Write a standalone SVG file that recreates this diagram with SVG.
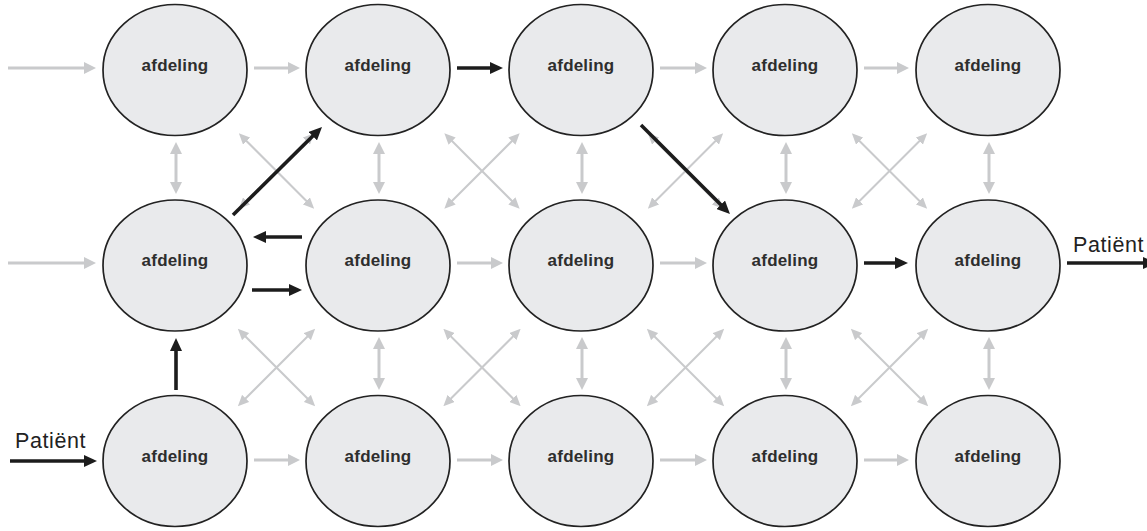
<svg xmlns="http://www.w3.org/2000/svg" width="1147" height="531" viewBox="0 0 1147 531">
  <style>
    .node ellipse { fill: #e9eaec; stroke: #222222; stroke-width: 1.7; }
    .node text { font-family: "Liberation Sans", Arial, sans-serif; font-weight: bold; font-size: 17px; fill: #2e2e2e; text-anchor: middle; letter-spacing: 0.2px; }
    .label { font-family: "Liberation Sans", Arial, sans-serif; font-size: 21.5px; fill: #222222; letter-spacing: 0.6px; }
    .gh { stroke: #c9cacc; stroke-width: 3; fill: none; marker-end: url(#headGray); }
    .gv { stroke: #c9cacc; stroke-width: 3; fill: none; marker-start: url(#headGray); marker-end: url(#headGray); }
    .gd { stroke: #c9cacc; stroke-width: 2; fill: none; marker-start: url(#headGrayS); marker-end: url(#headGrayS); }
    .bk { stroke: #1c1c1c; stroke-width: 3.6; fill: none; marker-end: url(#headBlack); }
  </style>
  <defs>
    <marker id="headGray" markerUnits="userSpaceOnUse" markerWidth="12" markerHeight="12" refX="3" refY="6" orient="auto-start-reverse">
      <path d="M0,0 L12,6 L0,12 z" fill="#c9cacc"/>
    </marker>
    <marker id="headGrayS" markerUnits="userSpaceOnUse" markerWidth="11" markerHeight="10" refX="3" refY="5" orient="auto-start-reverse">
      <path d="M0,0 L11,5 L0,10 z" fill="#c9cacc"/>
    </marker>
    <marker id="headBlack" markerUnits="userSpaceOnUse" markerWidth="13" markerHeight="12" refX="4" refY="6" orient="auto-start-reverse">
      <path d="M0,0 L13,6 L0,12 z" fill="#1c1c1c"/>
    </marker>
  </defs>

  <!-- connectors -->
  <g id="connectors">
    <!-- row 1 horizontals -->
    <line class="gh" x1="8" y1="68" x2="87" y2="68"/>
    <line class="gh" x1="254" y1="68" x2="291" y2="68"/>
    <line class="bk" x1="457" y1="68" x2="494" y2="68"/>
    <line class="gh" x1="660" y1="68" x2="698" y2="68"/>
    <line class="gh" x1="864" y1="68" x2="900" y2="68"/>

    <!-- row 2 horizontals -->
    <line class="gh" x1="8" y1="263" x2="87" y2="263"/>
    <line class="bk" x1="302" y1="237" x2="262" y2="237"/>
    <line class="bk" x1="252" y1="290" x2="293" y2="290"/>
    <line class="gh" x1="457" y1="263" x2="494" y2="263"/>
    <line class="gh" x1="660" y1="263" x2="698" y2="263"/>
    <line class="bk" x1="864" y1="263" x2="899" y2="263"/>
    <line class="bk" x1="1067" y1="263" x2="1147" y2="263"/>

    <!-- row 3 horizontals -->
    <line class="bk" x1="10" y1="461" x2="88" y2="461"/>
    <line class="gh" x1="254" y1="460" x2="291" y2="460"/>
    <line class="gh" x1="457" y1="460" x2="494" y2="460"/>
    <line class="gh" x1="660" y1="460" x2="698" y2="460"/>
    <line class="gh" x1="864" y1="460" x2="900" y2="460"/>

    <!-- verticals between rows 1 and 2 -->
    <line class="gv" x1="176" y1="151" x2="176" y2="185"/>
    <line class="gv" x1="379" y1="151" x2="379" y2="185"/>
    <line class="gv" x1="582" y1="151" x2="582" y2="185"/>
    <line class="gv" x1="786" y1="151" x2="786" y2="185"/>
    <line class="gv" x1="989" y1="151" x2="989" y2="185"/>

    <!-- verticals between rows 2 and 3 -->
    <line class="bk" x1="176" y1="390" x2="176" y2="347"/>
    <line class="gv" x1="379" y1="346" x2="379" y2="381"/>
    <line class="gv" x1="582" y1="346" x2="582" y2="381"/>
    <line class="gv" x1="786" y1="346" x2="786" y2="381"/>
    <line class="gv" x1="989" y1="346" x2="989" y2="381"/>

    <!-- diagonal crosses between rows 1 and 2 -->
    <line class="gd" x1="244.5" y1="139" x2="308.5" y2="203"/>
    <line class="gd" x1="308.5" y1="139" x2="244.5" y2="203"/>
    <line class="gd" x1="450" y1="139" x2="514" y2="203"/>
    <line class="gd" x1="514" y1="139" x2="450" y2="203"/>
    <line class="gd" x1="653.5" y1="139" x2="717.5" y2="203"/>
    <line class="gd" x1="717.5" y1="139" x2="653.5" y2="203"/>
    <line class="gd" x1="857.5" y1="139" x2="921.5" y2="203"/>
    <line class="gd" x1="921.5" y1="139" x2="857.5" y2="203"/>

    <!-- diagonal crosses between rows 2 and 3 -->
    <line class="gd" x1="243.5" y1="334.5" x2="309.5" y2="400.5"/>
    <line class="gd" x1="309.5" y1="334.5" x2="243.5" y2="400.5"/>
    <line class="gd" x1="449" y1="334.5" x2="515" y2="400.5"/>
    <line class="gd" x1="515" y1="334.5" x2="449" y2="400.5"/>
    <line class="gd" x1="652.5" y1="334.5" x2="718.5" y2="400.5"/>
    <line class="gd" x1="718.5" y1="334.5" x2="652.5" y2="400.5"/>
    <line class="gd" x1="856.5" y1="334.5" x2="922.5" y2="400.5"/>
    <line class="gd" x1="922.5" y1="334.5" x2="856.5" y2="400.5"/>

    <!-- black diagonal routes -->
    <line class="bk" x1="233" y1="215" x2="315.6" y2="133.3"/>
    <line class="bk" x1="641" y1="125" x2="723.6" y2="207.6"/>
  </g>

  <!-- row 1 -->
  <g id="n11" class="node"><ellipse cx="175" cy="70" rx="72" ry="65.5"/><text x="175" y="70.5">afdeling</text></g>
  <g id="n12" class="node"><ellipse cx="378" cy="70" rx="72" ry="65.5"/><text x="378" y="70.5">afdeling</text></g>
  <g id="n13" class="node"><ellipse cx="581" cy="70" rx="72" ry="65.5"/><text x="581" y="70.5">afdeling</text></g>
  <g id="n14" class="node"><ellipse cx="785" cy="70" rx="72" ry="65.5"/><text x="785" y="70.5">afdeling</text></g>
  <g id="n15" class="node"><ellipse cx="988" cy="70" rx="72" ry="65.5"/><text x="988" y="70.5">afdeling</text></g>

  <!-- row 2 -->
  <g id="n21" class="node"><ellipse cx="175" cy="265.5" rx="72" ry="65.5"/><text x="175" y="266">afdeling</text></g>
  <g id="n22" class="node"><ellipse cx="378" cy="265.5" rx="72" ry="65.5"/><text x="378" y="266">afdeling</text></g>
  <g id="n23" class="node"><ellipse cx="581" cy="265.5" rx="72" ry="65.5"/><text x="581" y="266">afdeling</text></g>
  <g id="n24" class="node"><ellipse cx="785" cy="265.5" rx="72" ry="65.5"/><text x="785" y="266">afdeling</text></g>
  <g id="n25" class="node"><ellipse cx="988" cy="265.5" rx="72" ry="65.5"/><text x="988" y="266">afdeling</text></g>

  <!-- row 3 -->
  <g id="n31" class="node"><ellipse cx="175" cy="461" rx="72" ry="65.5"/><text x="175" y="461.5">afdeling</text></g>
  <g id="n32" class="node"><ellipse cx="378" cy="461" rx="72" ry="65.5"/><text x="378" y="461.5">afdeling</text></g>
  <g id="n33" class="node"><ellipse cx="581" cy="461" rx="72" ry="65.5"/><text x="581" y="461.5">afdeling</text></g>
  <g id="n34" class="node"><ellipse cx="785" cy="461" rx="72" ry="65.5"/><text x="785" y="461.5">afdeling</text></g>
  <g id="n35" class="node"><ellipse cx="988" cy="461" rx="72" ry="65.5"/><text x="988" y="461.5">afdeling</text></g>

  <!-- entry and exit labels -->
  <text class="label" x="15" y="448">Patiënt</text>
  <text class="label" x="1073" y="252">Patiënt</text>
</svg>
